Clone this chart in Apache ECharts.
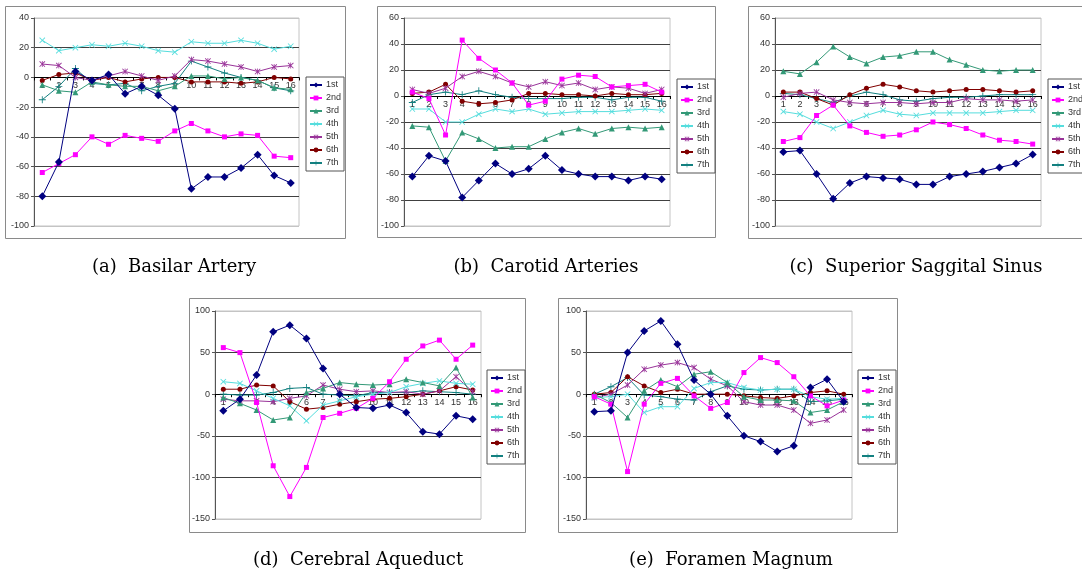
<!DOCTYPE html>
<html><head><meta charset="utf-8">
<script src="https://cdn.jsdelivr.net/npm/echarts@6/dist/echarts.min.js"></script>
<style>html,body{margin:0;padding:0;background:#fff}#c{width:1082px;height:573px}</style>
</head><body><div id="c"></div>
<script>
const categories = ['1','2','3','4','5','6','7','8','9','10','11','12','13','14','15','16'];
const seriesNames = ['1st','2nd','3rd','4th','5th','6th','7th'];
const captions = ['(a)  Basilar Artery','(b)  Carotid Arteries','(c)  Superior Saggital Sinus','(d)  Cerebral Aqueduct','(e)  Foramen Magnum'];

// (a) Basilar Artery
const a1 = [-80,-57,4,-2,2,-11,-6,-12,-21,-75,-67,-67,-61,-52,-66,-71];
const a2 = [-64,-58,-52,-40,-45,-39,-41,-43,-36,-31,-36,-40,-38,-39,-53,-54];
const a3 = [-5,-9,-10,-3,-5,-6,-6,-9,-6,1,1,-1,0,-2,-7,-8];
const a4 = [25,18,20,22,21,23,21,18,17,24,23,23,25,23,19,21];
const a5 = [9,8,0,-2,1,4,1,-2,1,12,11,9,7,4,7,8];
const a6 = [-2,2,3,-2,0,-3,-1,0,0,-3,-3,-3,-4,-3,0,-1];
const a7 = [-15,-6,6,-4,-5,-4,-9,-6,-4,11,7,3,0,-2,-7,-9];
// (b) Carotid Arteries
const b1 = [-62,-46,-50,-78,-65,-52,-60,-56,-46,-57,-60,-62,-62,-65,-62,-64];
const b2 = [3,-2,-30,43,29,20,10,-7,-4,13,16,15,7,8,9,3];
const b3 = [-23,-24,-50,-28,-33,-40,-39,-39,-33,-28,-25,-29,-25,-24,-25,-24];
const b4 = [-10,-10,-20,-20,-14,-10,-12,-10,-14,-13,-12,-12,-12,-11,-10,-11];
const b5 = [5,2,6,15,19,15,10,7,11,8,10,5,7,6,2,5];
const b6 = [2,3,9,-4,-6,-5,-3,2,2,1,1,0,2,1,1,2];
const b7 = [-5,1,3,1,4,1,-1,-2,-2,-2,-1,-1,-3,-1,-1,-4];
// (c) Superior Saggital Sinus
const c1 = [-43,-42,-60,-79,-67,-62,-63,-64,-68,-68,-62,-60,-58,-55,-52,-45];
const c2 = [-35,-32,-15,-7,-23,-28,-31,-30,-26,-20,-22,-25,-30,-34,-35,-37];
const c3 = [19,17,26,38,30,25,30,31,34,34,28,24,20,19,20,20];
const c4 = [-12,-14,-20,-25,-20,-15,-11,-14,-15,-13,-13,-13,-13,-12,-11,-11];
const c5 = [-1,2,3,-3,-5,-6,-5,-5,-6,-5,-5,-2,-3,-3,-4,-3];
const c6 = [3,3,-2,-7,1,6,9,7,4,3,4,5,5,4,3,4];
const c7 = [2,1,-2,-5,0,3,1,-3,-4,-2,-1,-1,0,1,1,1];
// (d) Cerebral Aqueduct
const d1 = [-20,-6,23,75,83,67,31,0,-16,-17,-13,-22,-45,-48,-26,-30];
const d2 = [56,50,-10,-86,-123,-88,-28,-23,-17,-5,15,42,58,65,42,59];
const d3 = [-4,-11,-19,-31,-28,2,7,14,12,11,12,18,14,10,32,-4];
const d4 = [15,13,4,-5,-14,-32,-13,-8,-3,0,2,9,13,16,13,12];
const d5 = [-6,-8,-8,-9,-5,-2,11,6,3,4,2,3,0,4,21,3];
const d6 = [6,6,11,10,-9,-18,-16,-12,-9,-6,-5,-3,0,4,9,5];
const d7 = [0,-1,-1,2,7,8,0,-1,-2,2,2,2,4,3,2,0];
// (e) Foramen Magnum
const e1 = [-21,-20,50,76,88,60,17,0,-26,-50,-57,-69,-62,8,18,-9];
const e2 = [-3,-12,-93,-12,13,19,-2,-17,-10,26,44,38,21,-2,-14,-7];
const e3 = [0,-10,-28,4,17,9,24,27,14,-3,-7,-7,-8,-22,-19,-9];
const e4 = [-4,-3,0,-22,-15,-15,7,14,14,8,5,6,6,-3,-6,-5];
const e5 = [-4,0,11,30,35,38,32,18,10,-9,-13,-13,-19,-35,-31,-19];
const e6 = [0,2,21,10,2,6,0,0,0,-2,-4,-5,-2,2,4,0];
const e7 = [0,9,20,-1,-3,-6,-7,3,10,6,5,6,6,-9,-8,-6];

const colors = ['#000080','#ff00ff','#339977','#55dddd','#993399','#800000','#138080'];
const xPath = 'path://M0,1L1,0L5,4L9,0L10,1L6,5L10,9L9,10L5,6L1,10L0,9L4,5Z';
const starPath = 'path://M0,1L1,0L4.4,3.4V0H5.6V3.4L9,0L10,1L6,5L10,9L9,10L5.6,6.6V10H4.4V6.6L1,10L0,9L4,5Z';
const plusPath = 'path://M4.4,0H5.6V4.4H10V5.6H5.6V10H4.4V5.6H0V4.4H4.4Z';
const symbols = ['diamond','rect','triangle',xPath,starPath,'circle',plusPath];
const symbolSizes = [8,5,6,6,6,5,7];

const panels = [
  {data:[a1,a2,a3,a4,a5,a6,a7], grid:{left:34,top:18,width:265,height:208}, y:[-100,40,20], legend:[306,77], box:[5,6,340,232], cap:[174,267]},
  {data:[b1,b2,b3,b4,b5,b6,b7], grid:{left:404,top:18,width:266,height:208}, y:[-100,60,20], legend:[677,79], box:[377,6,338,231], cap:[546,267]},
  {data:[c1,c2,c3,c4,c5,c6,c7], grid:{left:775,top:18,width:266,height:208}, y:[-100,60,20], legend:[1048,79], box:[748,6,360,232], cap:[916,267]},
  {data:[d1,d2,d3,d4,d5,d6,d7], grid:{left:215,top:311,width:266,height:208}, y:[-150,100,50], legend:[487,370], box:[189,298,336,234], cap:[358,560]},
  {data:[e1,e2,e3,e4,e5,e6,e7], grid:{left:586,top:311,width:266,height:208}, y:[-150,100,50], legend:[858,370], box:[558,298,339,234], cap:[731,560]}
];

const font = '"Liberation Sans", Arial, sans-serif';
const option = {
  animation:false, backgroundColor:'#fff',
  grid:[], xAxis:[], yAxis:[], series:[], legend:[], graphic:[]
};
panels.forEach((p,i)=>{
  option.graphic.push({type:'rect', shape:{x:p.box[0]+0.5,y:p.box[1]+0.5,width:p.box[2],height:p.box[3]}, style:{fill:'none',stroke:'#8a8a8a',lineWidth:1}, z:-1});
  option.graphic.push({type:'text', x:p.cap[0], y:p.cap[1], style:{text:captions[i], font:'18px "DejaVu Serif", "Liberation Serif", serif', fill:'#000', textAlign:'center', textVerticalAlign:'middle'}});
  option.grid.push(Object.assign({show:true, borderColor:'#c4c4c4', borderWidth:1, backgroundColor:'#fff'}, p.grid));
  const n = (p.y[1]-p.y[0])/p.y[2] + 1;
  const gc = [];
  for (let k=0;k<n;k++) gc.push(k===0||k===n-1 ? '#c4c4c4' : '#404040');
  // place the category axis where the value axis crosses zero
  const zeroOffset = -((0 - p.y[0]) / (p.y[1] - p.y[0])) * p.grid.height;
  option.xAxis.push({type:'category', gridIndex:i, data:categories, boundaryGap:true,
    position:'bottom', offset:zeroOffset,
    axisLine:{onZero:false, lineStyle:{color:'#000',width:1}},
    axisTick:{show:true, length:3, lineStyle:{color:'#000'}},
    axisLabel:{interval:0, fontSize:9, color:'#333', margin:4, fontFamily:font},
    splitLine:{show:false}});
  option.yAxis.push({type:'value', gridIndex:i, min:p.y[0], max:p.y[1], interval:p.y[2],
    axisLine:{show:true, lineStyle:{color:'#555'}},
    axisTick:{show:true, length:3, lineStyle:{color:'#555'}},
    axisLabel:{fontSize:9, color:'#333', margin:5, fontFamily:font},
    splitLine:{show:true, lineStyle:{color:gc, width:1}}});
  option.legend.push({orient:'vertical', left:p.legend[0], top:p.legend[1],
    data:seriesNames, backgroundColor:'#fff', borderColor:'#555', borderWidth:1,
    padding:[3,3,3,3], itemGap:3, itemWidth:12, itemHeight:6,
    textStyle:{fontSize:9, color:'#333', fontFamily:font, lineHeight:10, padding:[0,0,0,-1]},
    selectedMode:false});
  p.data.forEach((vals,j)=>{
    option.series.push({type:'line', name:seriesNames[j], xAxisIndex:i, yAxisIndex:i,
      data:vals, symbol:symbols[j], symbolSize:symbolSizes[j], showAllSymbol:true,
      lineStyle:{color:colors[j], width:1}, itemStyle:{color:colors[j]},
      z: 10-j, emphasis:{disabled:true}});
  });
});
const chart = echarts.init(document.getElementById('c'), null, {renderer:'canvas'});
chart.setOption(option);
</script></body></html>
